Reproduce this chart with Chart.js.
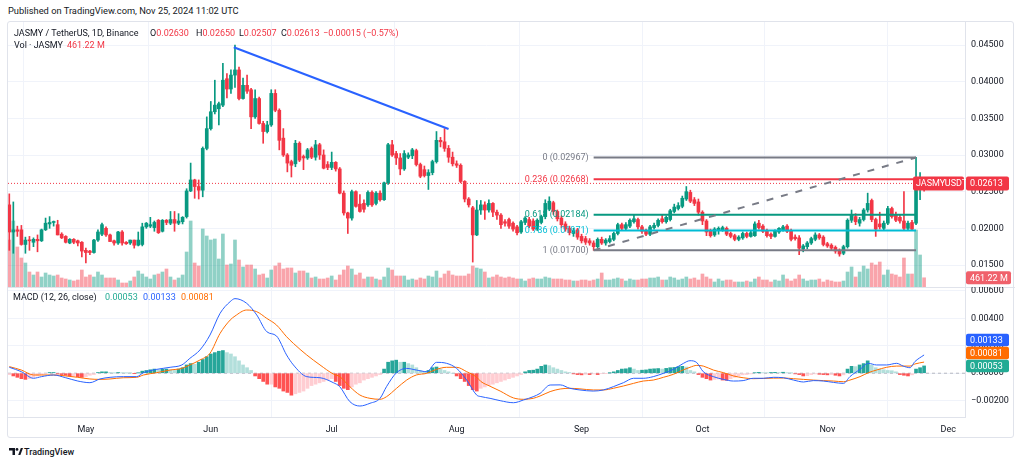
<!DOCTYPE html>
<html><head><meta charset="utf-8">
<script src="https://cdn.jsdelivr.net/npm/chart.js@4.4.1/dist/chart.umd.min.js"></script>
<style>
html,body{margin:0;padding:0;background:#fff;width:1024px;height:466px;overflow:hidden;font-family:Roboto,"Liberation Sans",sans-serif;color:#131722}
.abs{position:absolute;white-space:nowrap;font-size:9px;line-height:12px}
#frame{position:absolute;left:7px;top:21px;width:1007px;height:417px;border:1px solid #e0e3eb;border-radius:3px;box-sizing:border-box}
canvas{position:absolute;left:0}
.r{color:#F23645}
</style></head><body>
<div id="frame"></div>
<div class="abs" style="left:8px;top:5px;font-size:9.3px">Published on TradingView.com, Nov 25, 2024 11:02 UTC</div>
<canvas id="cA" width="1024" height="265" style="top:22px"></canvas>
<div style="position:absolute;left:7px;top:287px;width:1008px;height:1px;background:#e0e3eb"></div>
<canvas id="cB" width="1024" height="152" style="top:287px"></canvas>
<div class="abs" style="left:14px;top:27px">JASMY / TetherUS, 1D, Binance</div>
<div class="abs" style="left:150px;top:27px">O<span class="r">0.02630</span></div>
<div class="abs" style="left:196px;top:27px">H<span class="r">0.02650</span></div>
<div class="abs" style="left:239px;top:27px">L<span class="r">0.02507</span></div>
<div class="abs" style="left:281px;top:27px">C<span class="r">0.02613</span></div>
<div class="abs r" style="left:323px;top:27px">−0.00015 (−0.57%)</div>
<div class="abs" style="left:14px;top:39px">Vol · JASMY</div>
<div class="abs r" style="left:67px;top:39px">461.22 M</div>
<div class="abs" style="left:13px;top:291px">MACD (12, 26, close)</div>
<div class="abs" style="left:105px;top:291px;color:#22AB94">0.00053</div>
<div class="abs" style="left:143px;top:291px;color:#2962FF">0.00133</div>
<div class="abs" style="left:181px;top:291px;color:#FF6D00">0.00081</div>
<svg style="position:absolute;left:9px;top:448px" width="14" height="8" viewBox="0 0 14 8"><path d="M0 0h6v7H3.5V2.5H0z" fill="#131722"/><circle cx="8" cy="1.4" r="1.4" fill="#131722"/><path d="M9.2 7 11.8 0H14l-2.6 7z" fill="#131722"/></svg>
<div class="abs" style="left:24px;top:446px;font-size:9px;font-weight:500">TradingView</div>
<script>
// ---------- data ----------
const firstDate = '2024-04-12'; // day index 0, one candle per day up to 2024-11-25
const monthTicks = ['May','Jun','Jul','Aug','Sep','Oct','Nov','Dec'];
const monthTickDays = [19,50,80,111,142,172,203,233];
const priceTicks = [0.015,0.02,0.025,0.03,0.035,0.04,0.045];
const macdTicks = [-0.002,0,0.002,0.004,0.006];

const opens = [
.0232,.0195,.0198,.0198,.0178,.0184,.0181,.0185,.0183,.0198,
.0206,.0208,.0205,.0192,.0189,.0180,.0185,.0183,.0181,.0170,
.0169,.0167,.0184,.0192,.0200,.0191,.0183,.0180,.0195,.0181,
.0180,.0184,.0177,.0178,.0202,.0203,.0201,.0211,.0196,.0211,
.0207,.0212,.0207,.0209,.0216,.0251,.0266,.0257,.0252,.0309,
.0336,.0359,.0363,.0368,.0404,.0390,.0409,.0416,.0377,.0395,
.0389,.0352,.0377,.0343,.0332,.0341,.0384,.0361,.0323,.0300,
.0291,.0288,.0316,.0298,.0296,.0309,.0297,.0314,.0300,.0287,
.0283,.0290,.0281,.0248,.0221,.0214,.0250,.0233,.0234,.0232,
.0249,.0234,.0248,.0239,.0262,.0314,.0302,.0296,.0281,.0297,
.0299,.0306,.0287,.0280,.0272,.0276,.0291,.0320,.0318,.0309,
.0297,.0288,.0286,.0264,.0240,.0228,.0191,.0225,.0232,.0225,
.0234,.0222,.0218,.0209,.0212,.0207,.0202,.0195,.0208,.0212,
.0210,.0199,.0208,.0216,.0226,.0235,.0223,.0214,.0206,.0200,
.0193,.0198,.0189,.0186,.0183,.0180,.0175,.0185,.0180,.0182,
.0185,.0193,.0205,.0200,.0203,.0209,.0212,.0202,.0197,.0192,
.0201,.0204,.0213,.0209,.0212,.0223,.0227,.0230,.0240,.0249,
.0239,.0236,.0222,.0210,.0196,.0191,.0197,.0198,.0200,.0193,
.0190,.0185,.0187,.0193,.0189,.0190,.0207,.0203,.0197,.0192,
.0189,.0195,.0198,.0203,.0197,.0188,.0187,.0172,.0175,.0180,
.0185,.0191,.0188,.0179,.0177,.0174,.0170,.0166,.0175,.0211,
.0216,.0207,.0212,.0225,.0238,.0212,.0206,.0200,.0207,.0227,
.0219,.0215,.0210,.0200,.0208,.0207,.0262,.0263];
const highs = [
.0247,.0236,.0203,.0204,.0188,.0189,.0187,.0191,.0199,.0214,
.0216,.0210,.0211,.0194,.0190,.0186,.0186,.0184,.0182,.0173,
.0170,.0185,.0198,.0207,.0202,.0192,.0184,.0196,.0197,.0182,
.0184,.0184,.0195,.0207,.0208,.0215,.0210,.0212,.0212,.0212,
.0223,.0223,.0220,.0216,.0254,.0289,.0267,.0266,.0311,.0352,
.0373,.0402,.0372,.0425,.0411,.0416,.0450,.0420,.0405,.0409,
.0391,.0389,.0379,.0346,.0346,.0389,.0389,.0363,.0336,.0302,
.0293,.0320,.0318,.0300,.0309,.0311,.0320,.0316,.0307,.0291,
.0304,.0291,.0283,.0251,.0222,.0252,.0251,.0246,.0239,.0251,
.0251,.0250,.0251,.0263,.0316,.0320,.0305,.0302,.0306,.0303,
.0309,.0308,.0289,.0285,.0280,.0293,.0332,.0324,.0336,.0313,
.0304,.0292,.0288,.0265,.0242,.0230,.0238,.0238,.0236,.0239,
.0235,.0225,.0220,.0212,.0214,.0209,.0204,.0211,.0216,.0215,
.0213,.0213,.0218,.0239,.0243,.0237,.0225,.0217,.0209,.0203,
.0200,.0200,.0192,.0189,.0186,.0183,.0187,.0188,.0186,.0190,
.0195,.0207,.0207,.0208,.0213,.0218,.0214,.0204,.0199,.0204,
.0207,.0213,.0218,.0217,.0226,.0233,.0235,.0244,.0257,.0252,
.0242,.0240,.0224,.0212,.0199,.0201,.0202,.0203,.0202,.0195,
.0192,.0190,.0195,.0195,.0196,.0209,.0211,.0205,.0199,.0194,
.0198,.0201,.0204,.0205,.0199,.0191,.0190,.0178,.0182,.0188,
.0194,.0193,.0190,.0181,.0179,.0176,.0172,.0177,.0213,.0225,
.0220,.0215,.0227,.0248,.0240,.0214,.0222,.0210,.0230,.0229,
.0222,.0218,.0250,.0210,.0211,.02967,.0276,.0265];
const lows = [
.0170,.0166,.0189,.0177,.0166,.0170,.0175,.0168,.0182,.0197,
.0200,.0203,.0191,.0186,.0180,.0179,.0179,.0176,.0161,.0153,
.0164,.0166,.0182,.0190,.0189,.0182,.0177,.0178,.0177,.0178,
.0178,.0173,.0176,.0176,.0200,.0201,.0196,.0193,.0195,.0205,
.0205,.0196,.0205,.0206,.0214,.0250,.0241,.0240,.0243,.0307,
.0334,.0356,.0341,.0366,.0378,.0384,.0392,.0375,.0376,.0384,
.0336,.0350,.0342,.0316,.0330,.0339,.0359,.0307,.0298,.0277,
.0270,.0284,.0291,.0280,.0294,.0295,.0293,.0294,.0281,.0280,
.0280,.0278,.0247,.0218,.0193,.0211,.0229,.0222,.0222,.0230,
.0230,.0232,.0237,.0238,.0260,.0298,.0287,.0273,.0279,.0295,
.0295,.0285,.0269,.0270,.0253,.0273,.0289,.0311,.0305,.0290,
.0285,.0283,.0262,.0236,.0229,.0154,.0190,.0219,.0212,.0222,
.0216,.0212,.0200,.0203,.0200,.0196,.0191,.0193,.0205,.0201,
.0197,.0197,.0206,.0213,.0224,.0219,.0210,.0201,.0196,.0191,
.0189,.0185,.0180,.0178,.0177,.0170,.0173,.0178,.0177,.0180,
.0183,.0191,.0197,.0198,.0201,.0207,.0199,.0193,.0190,.0190,
.0199,.0202,.0207,.0207,.0210,.0221,.0225,.0228,.0238,.0235,
.0231,.0218,.0205,.0190,.0188,.0189,.0192,.0196,.0190,.0187,
.0183,.0183,.0185,.0187,.0188,.0189,.0199,.0194,.0188,.0186,
.0188,.0193,.0196,.0194,.0183,.0184,.0164,.0168,.0172,.0178,
.0183,.0185,.0176,.0174,.0171,.0166,.0162,.0164,.0173,.0208,
.0205,.0203,.0210,.0222,.0209,.0189,.0199,.0198,.0205,.0214,
.0209,.0207,.0197,.0197,.0197,.0205,.0239,.02507];
const closes = [
.0195,.0198,.0196,.0178,.0184,.0183,.0185,.0183,.0198,.0207,
.0208,.0209,.0191,.0187,.0181,.0185,.0181,.0180,.0169,.0167,
.0167,.0184,.0195,.0205,.0191,.0182,.0180,.0195,.0180,.0179,
.0184,.0177,.0184,.0202,.0207,.0205,.0208,.0194,.0211,.0208,
.0212,.0207,.0210,.0215,.0251,.0266,.0257,.0252,.0309,.0336,
.0359,.0368,.0370,.0402,.0390,.0409,.0416,.0377,.0395,.0387,
.0352,.0377,.0343,.0332,.0341,.0384,.0361,.0320,.0300,.0289,
.0286,.0316,.0293,.0296,.0307,.0297,.0314,.0300,.0282,.0283,
.0290,.0281,.0248,.0221,.0214,.0250,.0230,.0223,.0226,.0249,
.0232,.0248,.0239,.0262,.0314,.0300,.0296,.0281,.0302,.0300,
.0307,.0287,.0271,.0272,.0276,.0291,.0320,.0318,.0309,.0297,
.0288,.0286,.0264,.0240,.0232,.0191,.0225,.0232,.0225,.0234,
.0222,.0218,.0205,.0207,.0203,.0199,.0194,.0209,.0214,.0203,
.0199,.0211,.0216,.0234,.0237,.0223,.0213,.0205,.0199,.0194,
.0197,.0188,.0183,.0181,.0180,.0175,.0185,.0180,.0184,.0186,
.0193,.0205,.0200,.0205,.0211,.0213,.0202,.0196,.0192,.0202,
.0204,.0211,.0209,.0215,.0224,.0229,.0231,.0241,.0250,.0237,
.0234,.0222,.0210,.0195,.0190,.0199,.0200,.0201,.0192,.0189,
.0185,.0188,.0193,.0189,.0194,.0206,.0201,.0196,.0190,.0189,
.0196,.0200,.0202,.0196,.0185,.0186,.0173,.0176,.0180,.0186,
.0191,.0187,.0178,.0176,.0173,.0169,.0165,.0175,.0211,.0218,
.0209,.0212,.0225,.0234,.0212,.0199,.0202,.0207,.0227,.0216,
.0211,.0210,.0200,.0207,.0199,.0262,.0263,.02613];
const volumesM = [
2350,3300,2000,1450,1200,750,600,750,500,700,
600,550,600,450,400,350,300,350,850,500,
600,500,750,600,450,450,450,350,200,200,
300,500,800,650,500,400,600,650,750,900,
500,350,450,600,1750,3300,1200,1050,2900,2550,
2350,2400,1400,2650,1100,1150,2350,1350,1000,1100,
1100,900,600,650,450,850,1050,1200,900,950,
950,700,800,800,700,450,500,400,400,450,
550,350,600,850,1050,900,600,700,400,500,
500,400,350,500,950,850,550,550,550,350,
400,350,450,400,550,500,800,450,650,800,
600,550,550,550,650,1050,950,900,750,450,
500,600,500,450,500,450,400,400,300,400,
450,400,400,500,450,400,400,400,350,350,
300,300,350,350,300,350,400,700,350,350,
400,450,400,300,400,350,350,400,400,450,
450,500,350,350,500,450,350,400,500,400,
450,350,650,500,400,250,400,300,350,350,
250,250,250,300,250,400,500,350,350,250,
350,300,600,400,300,400,600,400,300,350,
350,400,250,350,300,250,250,300,750,1000,
500,750,1050,900,1200,1100,1250,600,850,650,
600,500,1450,650,650,2850,1600,461.22];
const macdHist = [
-0.0001,-0.0002,-0.0003,-0.0004,-0.00045,-0.0004,-0.0003,-0.0002,-0.00012,-0.00005,
0.00005,0.00005,-0.00005,-0.0001,-0.00015,-0.0002,-0.0002,-0.00025,-0.0003,-0.00025,
-0.00015,-0.0001,0.00005,0.0001,0.0001,0.00005,0.00002,0.00005,0.00003,0.00002,
0.00001,-0.00002,0.00002,0.00015,0.0002,0.00025,0.0003,0.00025,0.0003,0.0003,
0.00025,0.0002,0.0003,0.0004,0.0006,0.0007,0.00065,0.0008,0.001,0.0012,
0.0014,0.0015,0.0016,0.00165,0.0015,0.0014,0.0012,0.0009,0.0006,0.0004,
0.0002,-0.0002,-0.0004,-0.0006,-0.0008,-0.0008,-0.001,-0.0011,-0.0013,-0.0014,
-0.0016,-0.0015,-0.0014,-0.0013,-0.0011,-0.0009,-0.0008,-0.0007,-0.0006,-0.0005,
-0.0004,-0.0006,-0.0009,-0.0011,-0.0012,-0.001,-0.0008,-0.0007,-0.0005,-0.0004,
-0.0003,-0.0002,-0.0001,0.0003,0.0008,0.0009,0.00095,0.0008,0.0008,0.0007,
0.0006,0.0004,0.0002,0.0001,0.0002,0.0004,0.00045,0.0003,0.0002,0.0001,
0,-0.0002,-0.0004,-0.0006,-0.0009,-0.0012,-0.0013,-0.0011,-0.001,-0.0009,
-0.0008,-0.0007,-0.0006,-0.0005,-0.0004,-0.0003,-0.0002,-0.0001,0.0001,0.0002,
0.00022,0.0003,0.0005,0.0006,0.00055,0.0004,0.0003,0.0002,0.0001,0.00005,
-0.00005,-0.0001,-0.00012,-0.00008,-0.0001,-0.00005,-0.0001,-0.00003,-0.00002,0.00002,
0.0001,0.0002,0.0003,0.00032,0.0004,0.0003,0.0002,0.00022,0.00024,0.0003,
0.00032,0.00034,0.0003,0.00035,0.0004,0.00042,0.00048,0.0005,0.00045,0.0002,
0.0001,-0.0001,-0.0003,-0.0004,-0.0005,-0.00045,-0.00042,-0.0005,-0.00052,-0.0004,
-0.0003,-0.0002,-0.00012,-0.0001,-0.00005,0.00003,0.00006,0.00004,0.00003,0.00005,
0.00006,0.00005,0.00007,0.00004,0.00002,-0.00005,-0.0001,-0.0002,-0.00018,-0.0001,
-0.00005,-0.00008,-0.0001,-0.00012,-0.0001,-0.00015,-0.0002,-0.00012,0.0003,0.0005,
0.00048,0.0006,0.0007,0.0009,0.0006,0.0004,0.0003,0.00025,0.0002,0.00018,
0.0001,-0.0001,-0.00015,-0.0002,-0.00012,0.0003,0.0004,0.00053];
// MACD / signal lines read at these day positions
const macdDays = [0,3,6,8,11,14,17,20,22.5,25,28.3,31.6,33.3,36.6,39.9,42.8,44.8,47.3,49.8,52.3,54.8,56,58.9,61.4,63.9,66.3,68.8,70.5,73.8,77.1,80.4,82,84.5,87,89.5,92,93.6,96.1,98.6,101,103.6,106,108.5,111,113.5,116,117,119.3,121.8,125.1,127.6,130,131.7,134.2,136.7,139.1,141.6,144.9,147.4,149.9,152.4,154.9,157.3,159.8,162.3,164.8,167.3,168.9,170.6,172.2,174.7,177.2,179.7,182.1,184.6,187.1,189.6,192.1,194.6,197.1,199.5,202,204.5,207,208.6,211.1,213.2,215.2,217.7,220.2,221.8,223.5,224.7,227];
const macdLine = [.00043,.00011,-.00037,-.00025,-.00013,-.00033,-.00057,-.00069,-.00042,-.0003,-.00025,-.00025,.00004,.00028,.00043,.0006,.00108,.00169,.00278,.00436,.00521,.00543,.00509,.00424,.00302,.00271,.00133,.0006,-.00025,-.00033,-.00069,-.00098,-.00207,-.00239,-.00219,-.00183,-.00098,.00004,.00035,.00023,.00011,.00079,.00072,.00035,-.0005,-.0016,-.0017,-.00183,-.002,-.00215,-.00195,-.00171,-.00147,-.00086,-.00085,-.0011,-.00122,-.0013,-.00122,-.00098,-.00069,-.00037,-.00037,-.00025,-.00001,.00028,.00072,.00091,.00077,.00011,-.00025,-.00045,-.00057,-.00054,-.00037,-.00037,-.0003,-.00033,-.0005,-.00064,-.00054,-.00057,-.00067,-.00074,-.00025,.00028,.00072,.0006,.0006,.00072,.00052,.0004,.00084,.00133];
const signalLine = [.00048,.00023,-.00013,-.00013,-.00013,-.0002,-.0003,-.00042,-.00045,-.00042,-.00033,-.0003,-.00013,.00004,.00023,.00035,.0006,.00096,.00145,.0029,.00387,.00416,.0046,.00448,.00399,.00351,.00266,.00217,.00133,.0006,-.00006,-.00025,-.00098,-.00159,-.00183,-.0019,-.00171,-.0011,-.0005,-.00013,-.00001,.00028,.00043,.00043,.00011,-.0003,-.0006,-.00095,-.0013,-.0018,-.0019,-.00183,-.00166,-.00134,-.00115,-.0011,-.00114,-.00122,-.00122,-.0011,-.00093,-.00074,-.00057,-.0005,-.0003,-.00008,.00025,.00043,.00057,.00052,.00023,.00004,-.0002,-.00033,-.0004,-.00038,-.00036,-.00035,-.0004,-.00045,-.0005,-.00054,-.00057,-.00062,-.0005,-.00025,.00004,.00023,.00043,.00052,.00052,.00052,.00067,.00081];
// drawings
const trendDays = [55.7, 109];
const trendPrices = [0.0447, 0.03355];
const fibDays = [145, 225];
const fibRatios = ['0','0.236','0.618','0.786','1'];
const fibPrices = [0.02967, 0.02668, 0.02184, 0.01971, 0.01700];
const diagDays = [145, 225];
const diagPrices = [0.01700, 0.02967];
const symbolLabel = 'JASMYUSDT';
const lastVolumeLabel = '461.22 M';
const macdLastLabels = ['0.00133','0.00081','0.00053'];
const macdLastValues = [0.00133, 0.00081, 0.00053];

// ---------- styles ----------
Chart.defaults.font.family = 'Roboto, "Liberation Sans", sans-serif';
Chart.defaults.font.size = 9;
Chart.defaults.color = '#131722';
const GREEN = '#089981', RED = '#F23645', GRID = '#f0f3fa', AXIS = '#e0e3eb';
const fibColors = ['#787B86', '#F23645', '#089981', '#00BCD4', '#787B86'];
const N = closes.length;
const idx = closes.map((_, i) => i);
const isUp = i => closes[i] >= opens[i];
const XMIN = -0.3226, XMAX = 237.15;
const noPad = s => { s.paddingTop = 0; s.paddingBottom = 0; s.paddingLeft = 0; s.paddingRight = 0; };

function box(ctx, x, yc, w, h, bg, text, tx) {
  ctx.save();
  ctx.fillStyle = bg;
  ctx.beginPath();
  if (ctx.roundRect) ctx.roundRect(x, yc - h / 2, w, h, 2); else ctx.rect(x, yc - h / 2, w, h);
  ctx.fill();
  ctx.fillStyle = '#fff';
  ctx.font = '9px Roboto, "Liberation Sans", sans-serif';
  ctx.textBaseline = 'middle';
  ctx.textAlign = 'left';
  ctx.fillText(text, tx, yc + 0.5);
  ctx.restore();
}

const overlayA = {
  id: 'overlayA',
  afterDraw(chart) {
    const { ctx, chartArea, scales } = chart;
    const xs = scales.x, ys = scales.y, yv = scales.yVol;
    ctx.save();
    ctx.font = '9px Roboto, "Liberation Sans", sans-serif';
    ctx.textAlign = 'right';
    ctx.textBaseline = 'middle';
    const lx = xs.getPixelForValue(fibDays[0]) - 5;
    fibPrices.forEach((p, k) => {
      ctx.fillStyle = fibColors[k];
      ctx.fillText(fibRatios[k] + ' (' + p.toFixed(5) + ')', lx, ys.getPixelForValue(p));
    });
    ctx.restore();
    const py = ys.getPixelForValue(closes[N - 1]);
    box(ctx, chartArea.right - 52, py, 51, 14, RED, symbolLabel, chartArea.right - 49);
    box(ctx, chartArea.right + 1, py, 43, 14, RED, closes[N - 1].toFixed(5), chartArea.right + 5);
    const vy = Math.min(yv.getPixelForValue(volumesM[N - 1]), chartArea.bottom - 7);
    box(ctx, chartArea.right + 1, vy, 45, 13, '#F0616B', lastVolumeLabel, chartArea.right + 5);
  }
};

const fibSets = fibPrices.map((p, k) => ({
  type: 'line', data: [{ x: fibDays[0], y: p }, { x: fibDays[1], y: p }],
  borderColor: fibColors[k], borderWidth: 2, pointRadius: 0, yAxisID: 'y', order: 3
}));

new Chart(document.getElementById('cA'), {
  type: 'bar',
  data: {
    datasets: [
      { type: 'line', data: [{ x: XMIN, y: closes[N - 1] }, { x: XMAX, y: closes[N - 1] }], borderColor: RED, borderWidth: 1, borderDash: [1, 2], pointRadius: 0, yAxisID: 'y', order: 30 },
      { data: volumesM.map((v, i) => ({ x: i, y: v })), yAxisID: 'yVol', backgroundColor: idx.map(i => isUp(i) ? 'rgba(8,153,129,0.45)' : 'rgba(242,54,69,0.45)'), barThickness: 3, grouped: false, order: 20 },
      { data: idx.map(i => ({ x: i, y: [lows[i], highs[i]] })), yAxisID: 'y', backgroundColor: idx.map(i => isUp(i) ? GREEN : RED), barThickness: 1, grouped: false, order: 10 },
      { data: idx.map(i => ({ x: i, y: [Math.min(opens[i], closes[i]), Math.max(opens[i], closes[i])] })), yAxisID: 'y', backgroundColor: idx.map(i => isUp(i) ? GREEN : RED), barThickness: 3, minBarLength: 1, grouped: false, order: 9 },
      ...fibSets,
      { type: 'line', data: diagDays.map((d, k) => ({ x: d, y: diagPrices[k] })), borderColor: '#787B86', borderWidth: 2, borderDash: [7, 8], pointRadius: 0, yAxisID: 'y', order: 2 },
      { type: 'line', data: trendDays.map((d, k) => ({ x: d, y: trendPrices[k] })), borderColor: '#2962FF', borderWidth: 2, pointRadius: 0, yAxisID: 'y', order: 1 }
    ]
  },
  options: {
    responsive: false, animation: false, devicePixelRatio: 1,
    layout: { padding: { left: 8, right: 0, top: 0, bottom: 0 } },
    plugins: { legend: { display: false }, tooltip: { enabled: false } },
    scales: {
      x: { type: 'linear', min: XMIN, max: XMAX, offset: false,
        grid: { color: GRID, drawTicks: false }, border: { display: false }, ticks: { display: false },
        afterBuildTicks: s => { s.ticks = monthTickDays.map(v => ({ value: v })); },
        afterFit: s => { s.height = 0; noPad(s); } },
      y: { position: 'right', min: 0.012, max: 0.048137,
        grid: { color: GRID, drawTicks: false }, border: { display: true, color: AXIS },
        ticks: { padding: 6, color: '#131722', font: { size: 9 }, callback: v => v.toFixed(5) },
        afterBuildTicks: s => { s.ticks = priceTicks.map(v => ({ value: v })); },
        afterFit: s => { s.width = 59; noPad(s); } },
      yVol: { position: 'right', display: false, min: 0, max: 13250, afterFit: s => { noPad(s); } }
    }
  },
  plugins: [overlayA]
});

const histColors = macdHist.map((h, i) => {
  const p = i > 0 ? macdHist[i - 1] : h;
  if (h >= 0) return h >= p ? '#26A69A' : '#B2DFDB';
  return h < p ? '#FF5252' : '#FFCDD2';
});

const overlayB = {
  id: 'overlayB',
  afterDraw(chart) {
    const { ctx, chartArea, scales } = chart;
    const ys = scales.y;
    const cols = ['#2962FF', '#FF6D00', '#22AB94'];
    let yPrev = Infinity;
    const pos = [];
    for (let k = macdLastValues.length - 1; k >= 0; k--) {
      let y = ys.getPixelForValue(macdLastValues[k]);
      if (y > yPrev - 13) y = yPrev - 13;
      pos[k] = y; yPrev = y;
    }
    macdLastValues.forEach((v, k) => box(ctx, chartArea.right + 1, pos[k], 43, 12.5, cols[k], macdLastLabels[k], chartArea.right + 5));
  }
};

new Chart(document.getElementById('cB'), {
  type: 'bar',
  data: {
    datasets: [
      { type: 'line', data: [{ x: XMIN, y: 0 }, { x: XMAX, y: 0 }], borderColor: 'rgba(120,123,134,0.5)', borderWidth: 1, borderDash: [3, 3], pointRadius: 0, order: 30 },
      { data: macdHist.map((h, i) => ({ x: i, y: h })), backgroundColor: histColors, barThickness: 3, grouped: false, order: 10 },
      { type: 'line', data: macdDays.map((d, k) => ({ x: d, y: signalLine[k] })), borderColor: '#FF6D00', borderWidth: 1, pointRadius: 0, cubicInterpolationMode: 'monotone', order: 5 },
      { type: 'line', data: macdDays.map((d, k) => ({ x: d, y: macdLine[k] })), borderColor: '#2962FF', borderWidth: 1, pointRadius: 0, cubicInterpolationMode: 'monotone', order: 4 }
    ]
  },
  options: {
    responsive: false, animation: false, devicePixelRatio: 1,
    layout: { padding: { left: 8, right: 0, top: 0, bottom: 0 } },
    plugins: { legend: { display: false }, tooltip: { enabled: false } },
    scales: {
      x: { type: 'linear', min: XMIN, max: XMAX, offset: false,
        grid: { color: GRID, drawTicks: false }, border: { display: true, color: AXIS },
        ticks: { padding: 7, maxRotation: 0, autoSkip: false, color: '#131722', font: { size: 9 },
          callback: v => monthTicks[monthTickDays.indexOf(v)] },
        afterBuildTicks: s => { s.ticks = monthTickDays.map(v => ({ value: v })); },
        afterFit: s => { s.height = 22; noPad(s); } },
      y: { position: 'right', min: -0.003189, max: 0.006277,
        grid: { color: GRID, drawTicks: false }, border: { display: true, color: AXIS },
        ticks: { padding: 6, color: '#131722', font: { size: 9 }, callback: v => (v < 0 ? '−' : '') + Math.abs(v).toFixed(5) },
        afterBuildTicks: s => { s.ticks = macdTicks.map(v => ({ value: v })); },
        afterFit: s => { s.width = 59; noPad(s); } }
    }
  },
  plugins: [overlayB]
});
</script>
</body></html>
